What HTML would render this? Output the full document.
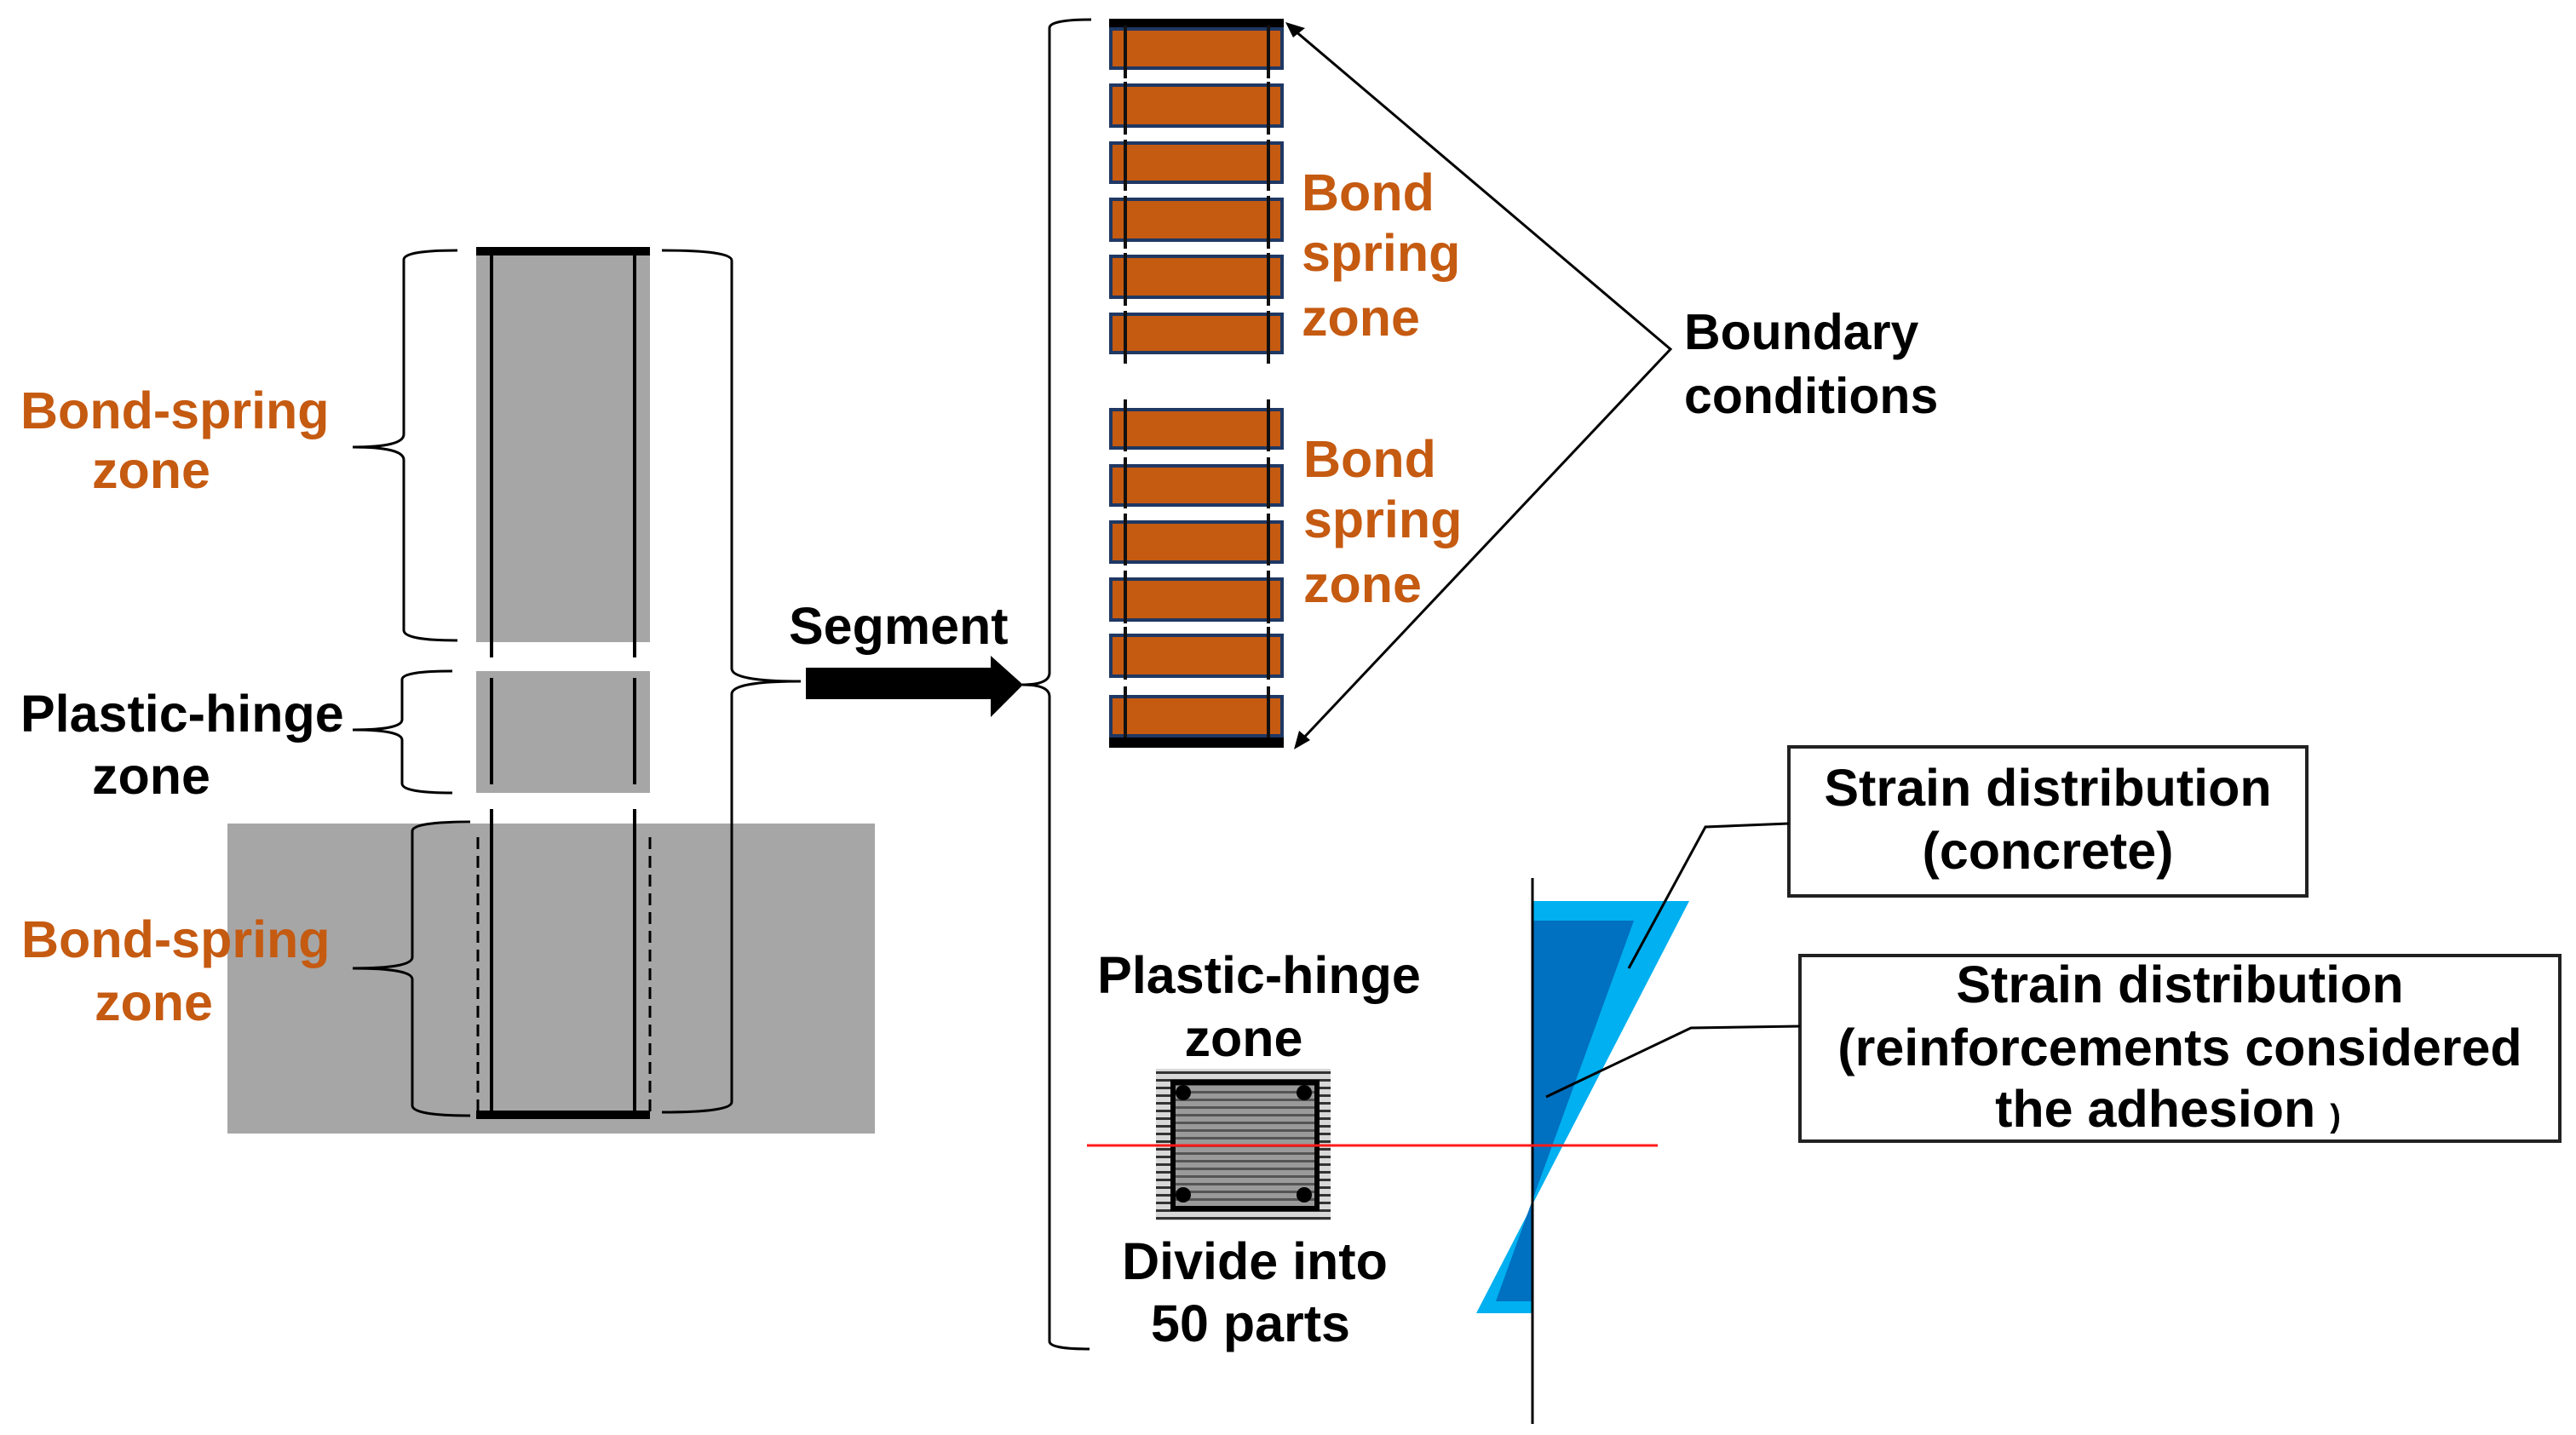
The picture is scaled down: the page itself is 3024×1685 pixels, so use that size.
<!DOCTYPE html>
<html><head><meta charset="utf-8"><style>
html,body{margin:0;padding:0;background:#fff}
svg{display:block}
text{font-family:"Liberation Sans",Arial,sans-serif;font-weight:bold}
.o{fill:#C55A11}
</style></head><body>
<svg width="3024" height="1685" viewBox="0 0 3024 1685" xmlns="http://www.w3.org/2000/svg">
<defs>
<pattern id="st" x="0" y="1255" width="10" height="9" patternUnits="userSpaceOnUse">
<rect width="10" height="9" fill="#d8d8d8"/><rect y="3" width="10" height="3" fill="#333"/>
</pattern>
<pattern id="st2" x="0" y="1269" width="10" height="9" patternUnits="userSpaceOnUse">
<rect width="10" height="9" fill="#9a9a9a"/><rect y="3" width="10" height="3" fill="#555"/>
</pattern>
</defs>

<rect x="267" y="967" width="760" height="364" fill="#A6A6A6"/>
<rect x="559" y="290" width="204" height="464" fill="#A6A6A6"/>
<rect x="559" y="788" width="204" height="143" fill="#A6A6A6"/>
<rect x="559" y="290" width="204" height="10" fill="#000"/>
<rect x="559" y="1304" width="204" height="10" fill="#000"/>
<g stroke="#000" stroke-width="4">
<line x1="577" y1="296" x2="577" y2="772"/><line x1="745" y1="296" x2="745" y2="772"/>
<line x1="577" y1="796" x2="577" y2="921"/><line x1="745" y1="796" x2="745" y2="921"/>
<line x1="577" y1="950" x2="577" y2="1310"/><line x1="745" y1="950" x2="745" y2="1310"/>
</g>
<g stroke="#000" stroke-width="3" stroke-dasharray="14,8">
<line x1="561" y1="983" x2="561" y2="1305"/><line x1="763" y1="983" x2="763" y2="1305"/>
</g>
<g fill="none" stroke="#000" stroke-width="3">
<path d="M537,294 Q474,294 474,305 L474,510 Q474,525 414,525 Q474,525 474,540 L474,740 Q474,752 537,752"/>
<path d="M531,788 Q472,788 472,798 L472,845 Q472,857 414,857 Q472,857 472,869 L472,920 Q472,931 531,931"/>
<path d="M552,965 Q484,965 484,976 L484,1124 Q484,1137 414,1137 Q484,1137 484,1150 L484,1298 Q484,1310 552,1310"/>
<path d="M777,294 Q859,294 859,306 L859,785 Q859,800 940,800 Q859,800 859,815 L859,1294 Q859,1306 777,1306"/>
<path d="M1281,23 Q1232,23 1232,33 L1232,790 Q1232,804 1200,804 Q1232,804 1232,818 L1232,1575 Q1232,1584 1279,1584"/>
</g>
<text class="o" x="24" y="503" font-size="61">Bond-spring</text>
<text class="o" x="108" y="573" font-size="61">zone</text>
<text x="24" y="859" font-size="61">Plastic-hinge</text>
<text x="108" y="932" font-size="61">zone</text>
<text class="o" x="25" y="1124" font-size="61">Bond-spring</text>
<text class="o" x="111" y="1198" font-size="61">zone</text>

<text x="926" y="756" font-size="61">Segment</text>
<polygon points="946,784 1163,784 1163,770 1201,804 1163,842 1163,821 946,821" fill="#000"/>

<rect x="1302" y="22" width="205" height="12" fill="#000"/>
<rect x="1302" y="864" width="205" height="14" fill="#000"/>
<g fill="#C55A11" stroke="#1F3864" stroke-width="4">
<rect x="1304" y="34" width="201" height="46"/>
<rect x="1304" y="100" width="201" height="48"/>
<rect x="1304" y="168" width="201" height="46"/>
<rect x="1304" y="234" width="201" height="48"/>
<rect x="1304" y="301" width="201" height="48"/>
<rect x="1304" y="369" width="201" height="45"/>
<rect x="1304" y="481" width="201" height="45"/>
<rect x="1304" y="547" width="201" height="46"/>
<rect x="1304" y="613" width="201" height="47"/>
<rect x="1304" y="680" width="201" height="48"/>
<rect x="1304" y="746" width="201" height="48"/>
<rect x="1304" y="818" width="201" height="46"/>
</g>
<g stroke="#111" stroke-width="4">
<line x1="1321" y1="30" x2="1321" y2="92"/><line x1="1489" y1="30" x2="1489" y2="92"/>
<line x1="1321" y1="96" x2="1321" y2="158"/><line x1="1489" y1="96" x2="1489" y2="158"/>
<line x1="1321" y1="164" x2="1321" y2="224"/><line x1="1489" y1="164" x2="1489" y2="224"/>
<line x1="1321" y1="230" x2="1321" y2="292"/><line x1="1489" y1="230" x2="1489" y2="292"/>
<line x1="1321" y1="297" x2="1321" y2="359"/><line x1="1489" y1="297" x2="1489" y2="359"/>
<line x1="1321" y1="365" x2="1321" y2="427"/><line x1="1489" y1="365" x2="1489" y2="427"/>
<line x1="1321" y1="469" x2="1321" y2="530"/><line x1="1489" y1="469" x2="1489" y2="530"/>
<line x1="1321" y1="537" x2="1321" y2="597"/><line x1="1489" y1="537" x2="1489" y2="597"/>
<line x1="1321" y1="603" x2="1321" y2="664"/><line x1="1489" y1="603" x2="1489" y2="664"/>
<line x1="1321" y1="670" x2="1321" y2="732"/><line x1="1489" y1="670" x2="1489" y2="732"/>
<line x1="1321" y1="736" x2="1321" y2="798"/><line x1="1489" y1="736" x2="1489" y2="798"/>
<line x1="1321" y1="806" x2="1321" y2="866"/><line x1="1489" y1="806" x2="1489" y2="866"/>
</g>
<text class="o" x="1528" y="247" font-size="61">Bond</text>
<text class="o" x="1528" y="318" font-size="61">spring</text>
<text class="o" x="1528" y="394" font-size="61">zone</text>
<text class="o" x="1530" y="560" font-size="61">Bond</text>
<text class="o" x="1530" y="631" font-size="61">spring</text>
<text class="o" x="1530" y="707" font-size="61">zone</text>

<g stroke="#000" stroke-width="3" fill="none">
<polyline points="1520,36 1961,410 1527,870"/>
</g>
<polygon points="1509,26 1532,33 1518,44" fill="#000"/>
<polygon points="1519,880 1525,858 1538,869" fill="#000"/>
<text x="1977" y="410" font-size="59">Boundary</text>
<text x="1977" y="485" font-size="59">conditions</text>

<polygon points="1799,1058 1983,1058 1733,1542 1799,1542" fill="#00B0F0"/>
<polygon points="1799,1081 1918,1081 1799,1409" fill="#0070C0"/>
<polygon points="1799,1409 1756,1528 1799,1528" fill="#0070C0"/>
<line x1="1799" y1="1031" x2="1799" y2="1672" stroke="#000" stroke-width="3"/>

<rect x="1357" y="1255" width="205" height="178" fill="url(#st)"/>
<rect x="1377" y="1271" width="169" height="148" fill="url(#st2)" stroke="#000" stroke-width="6"/>
<g fill="#000"><circle cx="1389" cy="1283" r="9"/><circle cx="1531" cy="1283" r="9"/><circle cx="1389" cy="1403" r="9"/><circle cx="1531" cy="1403" r="9"/></g>
<line x1="1276" y1="1345" x2="1946" y2="1345" stroke="#FF1A1A" stroke-width="3"/>

<text x="1478" y="1166" font-size="61" text-anchor="middle">Plastic-hinge</text>
<text x="1460" y="1240" font-size="61" text-anchor="middle">zone</text>
<text x="1473" y="1502" font-size="61" text-anchor="middle">Divide into</text>
<text x="1468" y="1575" font-size="61" text-anchor="middle">50 parts</text>

<rect x="2100" y="877" width="608" height="175" fill="#fff" stroke="#222" stroke-width="4"/>
<text x="2404" y="946" font-size="61" text-anchor="middle">Strain distribution</text>
<text x="2404" y="1020" font-size="61" text-anchor="middle">(concrete)</text>
<rect x="2113" y="1122" width="892" height="218" fill="#fff" stroke="#222" stroke-width="4"/>
<text x="2559" y="1177" font-size="61" text-anchor="middle">Strain distribution</text>
<text x="2559" y="1251" font-size="61" text-anchor="middle">(reinforcements considered</text>
<text x="2545" y="1323" font-size="61" text-anchor="middle">the adhesion <tspan font-size="38">)</tspan></text>
<g stroke="#000" stroke-width="3" fill="none">
<polyline points="2100,967 2002,971 1912,1137"/>
<polyline points="2113,1205 1985,1207 1815,1288"/>
</g>
</svg>
</body></html>
